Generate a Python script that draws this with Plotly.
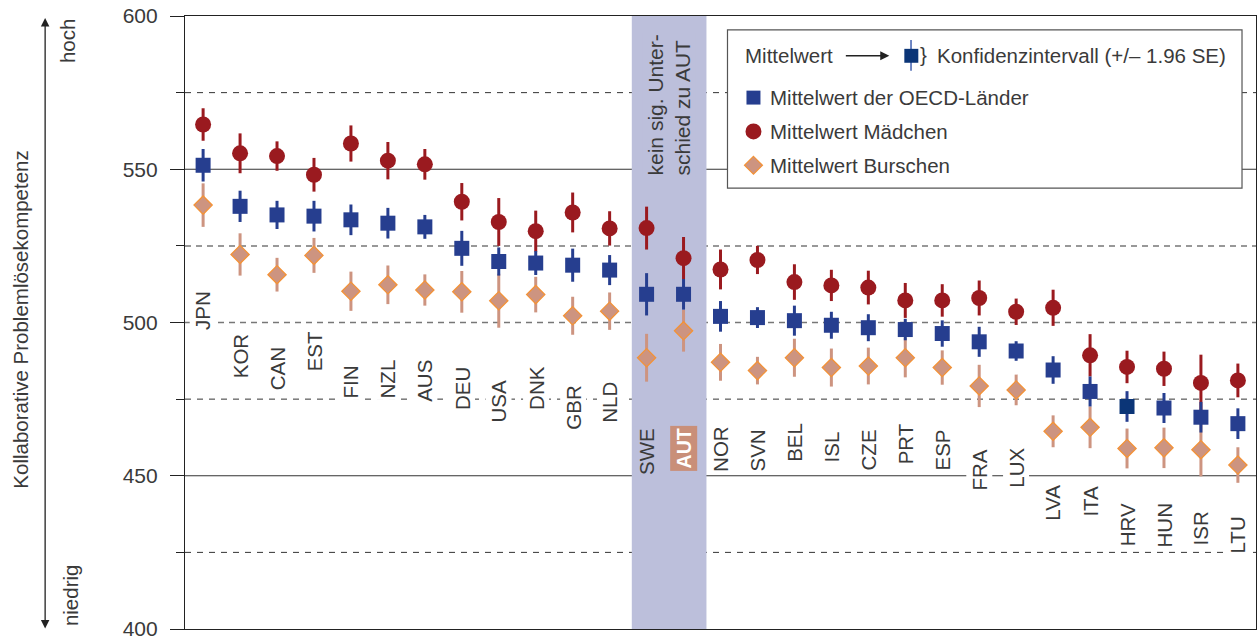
import plotly.graph_objects as go

countries = ["JPN", "KOR", "CAN", "EST", "FIN", "NZL", "AUS", "DEU", "USA", "DNK",
             "GBR", "NLD", "SWE", "AUT", "NOR", "SVN", "BEL", "ISL", "CZE", "PRT",
             "ESP", "FRA", "LUX", "LVA", "ITA", "HRV", "HUN", "ISR", "LTU"]

mean = [551.3, 537.9, 535.1, 534.7, 533.5, 532.4, 531.2, 524.2, 519.9, 519.4,
        518.7, 517.1, 509.2, 509.2, 502.0, 501.6, 500.6, 499.1, 498.3, 497.7,
        496.4, 493.7, 490.7, 484.5, 477.5, 472.6, 472.1, 469.1, 467.0]
mean_ci = [5.3, 5.1, 4.6, 5.0, 5.0, 5.0, 3.9, 5.7, 4.6, 3.9,
           5.4, 4.9, 6.9, 5.0, 5.0, 3.4, 4.9, 4.4, 4.4, 3.5,
           4.3, 4.9, 3.2, 4.5, 4.9, 5.0, 4.9, 5.0, 5.0]

girls = [564.6, 555.2, 554.3, 548.2, 558.4, 552.8, 551.6, 539.4, 532.8, 529.8,
         535.9, 530.7, 530.8, 521.0, 517.3, 520.4, 513.2, 512.1, 511.4, 507.2,
         507.2, 508.0, 503.5, 504.8, 489.3, 485.5, 484.9, 480.3, 481.1]
girls_ci = [5.3, 6.5, 4.8, 5.5, 5.9, 6.1, 5.0, 6.1, 7.8, 6.7,
            6.5, 5.6, 7.0, 6.9, 6.5, 4.6, 5.8, 5.1, 5.5, 5.7,
            5.3, 5.7, 4.3, 5.9, 6.9, 5.3, 5.6, 9.2, 5.5]

boys = [538.3, 522.2, 515.6, 521.9, 510.2, 512.3, 510.6, 510.0, 507.1, 509.1,
        502.2, 503.7, 488.5, 497.3, 487.0, 484.3, 488.5, 485.3, 485.8, 488.5,
        485.3, 479.3, 478.0, 464.5, 465.8, 458.9, 459.1, 458.5, 453.5]
boys_ci = [7.1, 6.9, 5.5, 5.7, 6.4, 6.3, 5.1, 6.8, 8.8, 5.8,
           6.2, 6.1, 7.8, 6.8, 6.0, 4.5, 6.2, 6.2, 6.0, 6.4,
           5.6, 6.9, 5.0, 5.2, 6.8, 6.5, 6.6, 8.7, 5.8]

BLUE = "#263e8f"
NAVY = "#0b3577"
RED = "#9a1a1f"
SALMON = "#cd9480"
ORANGE = "#f39237"
BAND = "#bcbfdb"
TXT = "#3a3a3a"
FONT = "Liberation Sans, Arial, sans-serif"
FS = 20.5

# plot area in pixels, used for paper-coordinate decorations
L, R, T, B = 185, 1257, 16, 632


def xp(px):
    return (px - L) / (R - L)


def yp(py):
    return (B - py) / (B - T)


x = list(range(len(countries)))

fig = go.Figure()
fig.add_trace(go.Scatter(
    x=x, y=girls, mode="markers", name="Mittelwert Mädchen",
    marker=dict(symbol="circle", size=16, color=RED),
    error_y=dict(type="data", array=girls_ci, color=RED, thickness=3, width=0),
))
fig.add_trace(go.Scatter(
    x=x, y=boys, mode="markers", name="Mittelwert Burschen",
    marker=dict(symbol="diamond", size=14, color=SALMON, line=dict(color=ORANGE, width=1.3)),
    error_y=dict(type="data", array=boys_ci, color=SALMON, thickness=3, width=0),
))
mean_colors = [NAVY if c == "HRV" else BLUE for c in countries]
fig.add_trace(go.Scatter(
    x=x, y=mean, mode="markers", name="Mittelwert der OECD-Länder",
    marker=dict(symbol="square", size=15, color=mean_colors),
    error_y=dict(type="data", array=mean_ci, color=BLUE, thickness=3, width=0),
))

shapes = []
# horizontal reference lines
for v in [550, 450]:
    shapes.append(dict(type="line", xref="paper", yref="y", x0=0, x1=1, y0=v, y1=v,
                       line=dict(color="#333333", width=1.2), layer="below"))
for v in [525, 500]:
    shapes.append(dict(type="line", xref="paper", yref="y", x0=0, x1=1, y0=v, y1=v,
                       line=dict(color="#777777", width=1.5, dash="6px,5px"), layer="below"))
for v in [575, 475, 425]:
    shapes.append(dict(type="line", xref="paper", yref="y", x0=0, x1=1, y0=v, y1=v,
                       line=dict(color="#333333", width=1, dash="6px,6px"), layer="below"))
# band: no significant difference to AUT
shapes.append(dict(type="rect", xref="x", yref="paper", x0=11.6, x1=13.62, y0=0, y1=1,
                   fillcolor=BAND, line=dict(width=0), layer="below"))

# legend box
shapes.append(dict(type="rect", xref="paper", yref="paper", x0=xp(728), x1=xp(1243),
                   y0=yp(189), y1=yp(30), fillcolor="white",
                   line=dict(color="#555555", width=1.2), layer="above"))
# row 1 CI symbol
shapes.append(dict(type="line", xref="paper", yref="paper", x0=xp(911.7), x1=xp(911.7),
                   y0=yp(71), y1=yp(40), line=dict(color="#3f5fb0", width=1.5), layer="above"))
shapes.append(dict(type="rect", xref="paper", yref="paper", x0=xp(905), x1=xp(919),
                   y0=yp(63), y1=yp(49), fillcolor=NAVY, line=dict(width=0), layer="above"))
# row symbols
shapes.append(dict(type="rect", xref="paper", yref="paper", x0=xp(747), x1=xp(761),
                   y0=yp(105), y1=yp(91), fillcolor=BLUE, line=dict(width=0), layer="above"))
shapes.append(dict(type="circle", xref="paper", yref="paper", x0=xp(746), x1=xp(762),
                   y0=yp(140), y1=yp(124), fillcolor=RED, line=dict(width=0), layer="above"))
shapes.append(dict(type="path", xref="paper", yref="paper",
                   path="M {},{} L {},{} L {},{} L {},{} Z".format(
                       xp(754), yp(157), xp(763), yp(166), xp(754), yp(175), xp(745), yp(166)),
                   fillcolor=SALMON, line=dict(color=ORANGE, width=1.2), layer="above"))

annotations = []
# country labels below each country's lowest interval (gap grows a bit for higher scores)
label_top = [b - e - (11 + 0.12 * (b - 460)) for b, e in zip(boys, boys_ci)]
# the two countries inside the band share the lower label position
i_swe, i_aut = countries.index("SWE"), countries.index("AUT")
label_top[i_swe] = label_top[i_aut] = min(label_top[i_swe], label_top[i_aut])

for i, c in enumerate(countries):
    if c == "AUT":
        annotations.append(dict(x=i, y=label_top[i], xref="x", yref="y", text="<b>AUT</b>",
                                textangle=-90, showarrow=False, xanchor="center", yanchor="top",
                                bgcolor="#c98f79", borderpad=2,
                                font=dict(family=FONT, size=FS - 1, color="white")))
    else:
        annotations.append(dict(x=i, y=label_top[i], xref="x", yref="y", text=c, textangle=-90,
                                showarrow=False, xanchor="center", yanchor="top",
                                bgcolor=BAND if c == "SWE" else "white", borderpad=1,
                                font=dict(family=FONT, size=FS, color=TXT)))

annotations.append(dict(x=12.6, y=547.4, xref="x", yref="y",
                        text="kein sig. Unter-<br>schied zu AUT", textangle=-90, align="left",
                        showarrow=False, xanchor="center", yanchor="bottom", bgcolor=BAND,
                        font=dict(family=FONT, size=21, color=TXT)))

# legend texts
annotations.append(dict(x=xp(744), y=yp(56), xref="paper", yref="paper", text="Mittelwert",
                        showarrow=False, xanchor="left", yanchor="middle",
                        font=dict(family=FONT, size=FS, color=TXT)))
annotations.append(dict(x=xp(890), y=yp(56), xref="paper", yref="paper", text="",
                        showarrow=True, ax=-45, ay=0, arrowhead=2, arrowsize=1.3,
                        arrowwidth=1.4, arrowcolor="#222222"))
annotations.append(dict(x=xp(919), y=yp(55), xref="paper", yref="paper", text="}",
                        showarrow=False, xanchor="left", yanchor="middle",
                        font=dict(family=FONT, size=FS, color=TXT)))
annotations.append(dict(x=xp(936), y=yp(56), xref="paper", yref="paper",
                        text="Konfidenzintervall (+/– 1.96 SE)",
                        showarrow=False, xanchor="left", yanchor="middle",
                        font=dict(family=FONT, size=FS, color=TXT)))
for yy, t in [(98, "Mittelwert der OECD-Länder"), (132, "Mittelwert Mädchen"),
              (166, "Mittelwert Burschen")]:
    annotations.append(dict(x=xp(769), y=yp(yy), xref="paper", yref="paper", text=t,
                            showarrow=False, xanchor="left", yanchor="middle",
                            font=dict(family=FONT, size=FS, color=TXT)))

# left side: axis title and high/low arrow
annotations.append(dict(x=xp(20), y=yp(321), xref="paper", yref="paper",
                        text="Kollaborative Problemlösekompetenz", textangle=-90,
                        showarrow=False, xanchor="center", yanchor="middle",
                        font=dict(family=FONT, size=FS, color=TXT)))
annotations.append(dict(x=xp(45), y=yp(18), xref="paper", yref="paper", text="",
                        showarrow=True, ax=0, ay=612, arrowhead=2, arrowside="end+start",
                        arrowsize=1.3, arrowwidth=1.3, arrowcolor="#222222"))
annotations.append(dict(x=xp(68), y=yp(17), xref="paper", yref="paper", text="hoch",
                        textangle=-90, showarrow=False, xanchor="center", yanchor="top",
                        font=dict(family=FONT, size=FS, color=TXT)))
annotations.append(dict(x=xp(70), y=yp(631), xref="paper", yref="paper", text="niedrig",
                        textangle=-90, showarrow=False, xanchor="center", yanchor="bottom",
                        font=dict(family=FONT, size=FS, color=TXT)))

fig.update_layout(
    width=1258, height=641,
    margin=dict(l=L, r=1258 - R, t=T, b=641 - B),
    paper_bgcolor="white", plot_bgcolor="white",
    showlegend=False,
    shapes=shapes,
    annotations=annotations,
    xaxis=dict(range=[-0.49, 28.49], showgrid=False, zeroline=False, showticklabels=False,
               ticks="", showline=True, mirror=True, linecolor="#222222", linewidth=1.2),
    yaxis=dict(range=[400, 600], tickvals=[400, 450, 500, 550, 600], showgrid=False,
               zeroline=False, ticks="outside", ticklen=14, tickcolor="#222222",
               ticklabelstandoff=8, ticklabeloverflow="allow",
               minor=dict(dtick=25, tick0=0, ticks="outside", ticklen=8, tickcolor="#222222"),
               showline=True, mirror=True, linecolor="#222222", linewidth=1.2,
               tickfont=dict(family=FONT, size=21, color=TXT)),
)

fig.write_html("out.html", config={"displayModeBar": False},
               post_script="document.body.style.margin='0';")
